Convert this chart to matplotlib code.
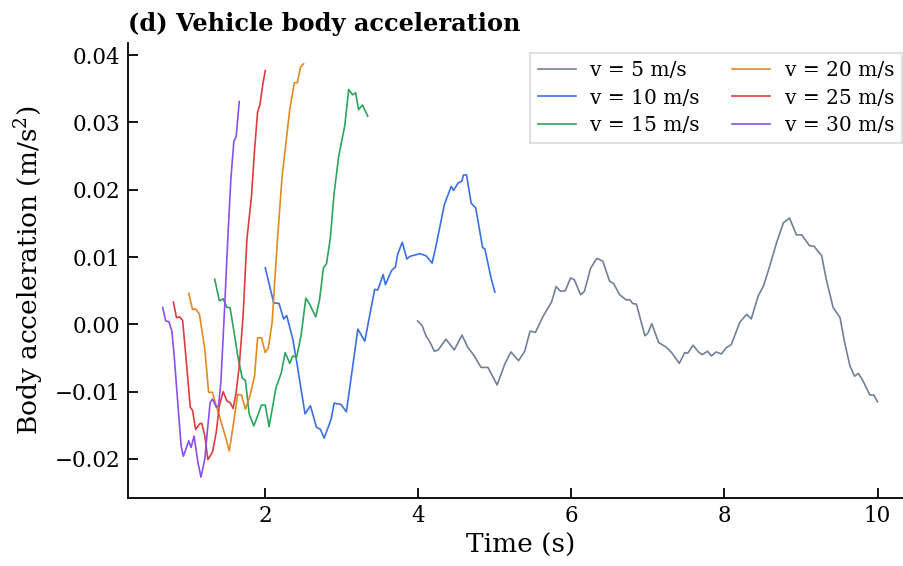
import numpy as np
import matplotlib.pyplot as plt

plt.rcParams['font.family'] = 'DejaVu Serif'
plt.rcParams['mathtext.fontset'] = 'dejavuserif'

# body acceleration traces (time in s, acceleration in m/s^2), one per speed
t_5 = [3.99, 4.05, 4.10, 4.15, 4.21, 4.26, 4.36, 4.47, 4.57, 4.65, 4.72, 4.82, 4.91, 5.03, 5.13, 5.21,
       5.31, 5.39, 5.46, 5.53, 5.63, 5.74, 5.80, 5.86, 5.92, 5.99, 6.04, 6.12, 6.17, 6.25, 6.33, 6.41,
       6.50, 6.55, 6.63, 6.72, 6.76, 6.80, 6.85, 6.96, 7.00, 7.05, 7.14, 7.24, 7.31, 7.41, 7.48, 7.52,
       7.59, 7.66, 7.71, 7.78, 7.83, 7.89, 7.96, 8.02, 8.09, 8.20, 8.29, 8.35, 8.44, 8.51, 8.59, 8.68,
       8.77, 8.85, 8.94, 9.01, 9.11, 9.17, 9.27, 9.33, 9.42, 9.51, 9.57, 9.64, 9.70, 9.75, 9.81, 9.90,
       9.95, 10.00]
a_5 = [0.0005, -0.0002, -0.0017, -0.0026, -0.0040, -0.0038, -0.0022, -0.0038, -0.0016, -0.0035, -0.0045,
       -0.0064, -0.0064, -0.0090, -0.0059, -0.0041, -0.0054, -0.0040, -0.0010, -0.0012, 0.0012, 0.0033,
       0.0056, 0.0049, 0.0050, 0.0069, 0.0066, 0.0044, 0.0049, 0.0083, 0.0098, 0.0094, 0.0064, 0.0061,
       0.0044, 0.0036, 0.0037, 0.0031, 0.0030, -0.0017, -0.0013, 0.0001, -0.0027, -0.0034, -0.0042,
       -0.0058, -0.0042, -0.0043, -0.0031, -0.0041, -0.0045, -0.0040, -0.0047, -0.0041, -0.0044, -0.0035,
       -0.0030, 0.0003, 0.0015, 0.0008, 0.0042, 0.0057, 0.0086, 0.0121, 0.0151, 0.0158, 0.0133, 0.0133,
       0.0117, 0.0116, 0.0102, 0.0067, 0.0025, 0.0010, -0.0027, -0.0062, -0.0077, -0.0073, -0.0084,
       -0.0105, -0.0105, -0.0115]

t_10 = [2.00, 2.11, 2.18, 2.24, 2.28, 2.36, 2.42, 2.47, 2.52, 2.59, 2.67, 2.72, 2.77, 2.86, 2.90, 2.99,
        3.06, 3.12, 3.21, 3.30, 3.43, 3.47, 3.54, 3.57, 3.65, 3.70, 3.73, 3.79, 3.85, 3.89, 4.02, 4.10,
        4.18, 4.23, 4.34, 4.43, 4.46, 4.52, 4.57, 4.59, 4.63, 4.69, 4.75, 4.84, 4.87, 4.95, 5.00]
a_10 = [0.0084, 0.0032, 0.0031, 0.0008, 0.0013, -0.0022, -0.0062, -0.0098, -0.0133, -0.0121, -0.0153,
        -0.0156, -0.0169, -0.0141, -0.0117, -0.0119, -0.0130, -0.0081, -0.0007, -0.0025, 0.0052, 0.0051,
        0.0074, 0.0059, 0.0080, 0.0085, 0.0104, 0.0122, 0.0097, 0.0101, 0.0105, 0.0102, 0.0091, 0.0116,
        0.0178, 0.0205, 0.0199, 0.0210, 0.0213, 0.0222, 0.0222, 0.0180, 0.0173, 0.0114, 0.0112, 0.0069,
        0.0048]

t_15 = [1.34, 1.40, 1.45, 1.50, 1.54, 1.60, 1.64, 1.70, 1.74, 1.79, 1.85, 1.90, 1.95, 2.00, 2.05, 2.14,
        2.21, 2.26, 2.32, 2.36, 2.41, 2.47, 2.53, 2.58, 2.66, 2.71, 2.76, 2.80, 2.85, 2.90, 2.96, 3.04,
        3.09, 3.14, 3.18, 3.22, 3.27, 3.34]
a_15 = [0.0067, 0.0035, 0.0038, 0.0025, 0.0025, -0.0017, -0.0047, -0.0080, -0.0083, -0.0133, -0.0151,
        -0.0136, -0.0120, -0.0120, -0.0152, -0.0094, -0.0072, -0.0042, -0.0058, -0.0047, -0.0049, -0.0015,
        0.0039, 0.0030, 0.0011, 0.0037, 0.0084, 0.0090, 0.0128, 0.0195, 0.0250, 0.0296, 0.0349, 0.0341,
        0.0344, 0.0319, 0.0326, 0.0309]

t_20 = [1.00, 1.05, 1.09, 1.14, 1.21, 1.26, 1.31, 1.36, 1.40, 1.47, 1.53, 1.58, 1.64, 1.69, 1.74, 1.80,
        1.86, 1.90, 1.95, 2.00, 2.04, 2.09, 2.12, 2.16, 2.22, 2.26, 2.32, 2.38, 2.42, 2.46, 2.50]
a_20 = [0.0046, 0.0022, 0.0023, 0.0015, -0.0037, -0.0101, -0.0101, -0.0121, -0.0136, -0.0163, -0.0188,
        -0.0151, -0.0104, -0.0105, -0.0126, -0.0106, -0.0077, -0.0020, -0.0020, -0.0042, -0.0035, 0.0003,
        0.0057, 0.0126, 0.0220, 0.0259, 0.0319, 0.0359, 0.0359, 0.0382, 0.0387]

t_25 = [0.80, 0.84, 0.88, 0.92, 0.97, 1.02, 1.05, 1.09, 1.14, 1.17, 1.21, 1.25, 1.31, 1.36, 1.40, 1.45,
        1.50, 1.54, 1.58, 1.62, 1.66, 1.71, 1.76, 1.82, 1.86, 1.90, 1.93, 1.97, 2.00]
a_25 = [0.0033, 0.0010, 0.0011, 0.0006, -0.0057, -0.0123, -0.0128, -0.0156, -0.0148, -0.0147, -0.0165,
        -0.0201, -0.0190, -0.0160, -0.0121, -0.0100, -0.0114, -0.0116, -0.0125, -0.0101, -0.0062, 0.0012,
        0.0126, 0.0190, 0.0259, 0.0316, 0.0326, 0.0358, 0.0377]

t_30 = [0.66, 0.70, 0.74, 0.78, 0.81, 0.86, 0.90, 0.93, 0.97, 1.00, 1.03, 1.07, 1.12, 1.16, 1.21, 1.25,
        1.28, 1.31, 1.36, 1.39, 1.42, 1.47, 1.51, 1.55, 1.59, 1.62, 1.66]
a_30 = [0.0025, 0.0005, 0.0004, -0.0010, -0.0047, -0.0121, -0.0180, -0.0196, -0.0183, -0.0173, -0.0183,
        -0.0166, -0.0205, -0.0227, -0.0200, -0.0151, -0.0116, -0.0111, -0.0123, -0.0121, -0.0086, 0.0027,
        0.0126, 0.0215, 0.0272, 0.0279, 0.0331]

series = [
    (t_5, a_5, 'v = 5 m/s', '#718096'),
    (t_10, a_10, 'v = 10 m/s', '#3b6fe6'),
    (t_15, a_15, 'v = 15 m/s', '#2ba55a'),
    (t_20, a_20, 'v = 20 m/s', '#e08a22'),
    (t_25, a_25, 'v = 25 m/s', '#e03c3c'),
    (t_30, a_30, 'v = 30 m/s', '#8a4ff0'),
]

fig = plt.figure(figsize=(9.04, 5.66), dpi=100)
ax = fig.add_axes([127.5 / 904, 68 / 566, 786 / 904, 455 / 566])

for t, a, lab, c in series:
    ax.plot(t, a, color=c, lw=1.2, label=lab)

ax.set_xlim(0.2, 10.47)
ax.set_ylim(-0.0258, 0.0418)
ax.set_xticks([2, 4, 6, 8, 10])
ax.set_yticks([-0.02, -0.01, 0.0, 0.01, 0.02, 0.03, 0.04])

ax.spines['top'].set_visible(False)
ax.spines['right'].set_visible(False)
ax.spines['left'].set_linewidth(1.3)
ax.spines['bottom'].set_linewidth(1.3)
ax.tick_params(direction='in', length=7, width=1.3, labelsize=15.5, pad=5)

ax.set_xlabel('Time (s)', fontsize=19, labelpad=4)
ax.set_ylabel('Body acceleration (m/s$^2$)', fontsize=19, labelpad=6)
ax.set_title('(d) Vehicle body acceleration', loc='left', fontsize=17.3, fontweight='bold', pad=9)

leg = ax.legend(ncol=2, loc='upper right', fontsize=14.5, frameon=True, fancybox=False,
                borderpad=0.4, handlelength=1.9, handletextpad=0.7, columnspacing=1.6,
                labelspacing=0.42, borderaxespad=0)
leg.get_frame().set_edgecolor('#d6dade')
leg.get_frame().set_linewidth(1.5)
leg.set_bbox_to_anchor((902 / 904, 513 / 566), transform=fig.transFigure)

fig.savefig('out.png', dpi=100)
